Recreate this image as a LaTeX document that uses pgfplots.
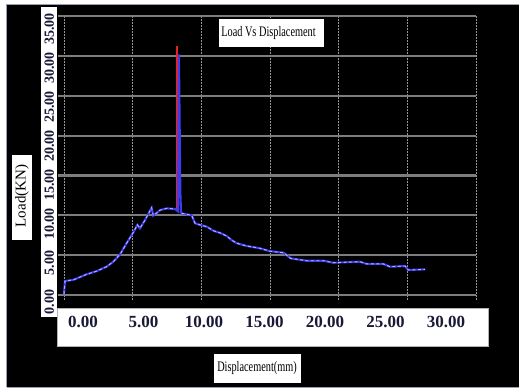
\documentclass[border=0pt]{standalone}
\usepackage{fontspec}
\setmainfont{Liberation Serif}
\usepackage{graphicx}
\usepackage{pgfplots}
\pgfplotsset{compat=1.18}
\usepackage{pgfplotstable}
\definecolor{curveblue}{RGB}{60,60,240}
\definecolor{curvelight}{RGB}{180,180,255}
\definecolor{spikered}{RGB}{230,35,35}
\definecolor{hgrid}{RGB}{125,125,125}
\definecolor{vgrid}{RGB}{150,150,150}
\definecolor{ticktext}{RGB}{25,25,55}
\definecolor{framegray}{RGB}{150,160,175}

\pgfplotstableread{
x y
0 0.1
0.07 1.76
0.68 1.9
1.65 2.6
2.38 3.0
3.1 3.55
3.6 4.2
4.08 5.1
4.56 6.5
5.05 7.87
5.34 8.8
5.53 8.37
5.9 9.4
6.38 10.95
6.5 9.95
7.0 10.66
7.48 10.87
8.08 10.8
8.3 10.5
8.37 30.2
8.47 13.0
8.52 10.4
8.57 10.25
9.3 10.0
9.54 9.0
9.9 8.8
10.4 8.57
10.87 8.07
11.36 7.8
11.85 7.4
12.2 6.9
12.58 6.5
13.3 6.15
13.9 5.98
14.27 5.86
15.0 5.5
16.0 5.3
16.5 4.6
17.67 4.3
18.9 4.3
19.6 4.05
21.55 4.18
22.04 3.9
23.25 3.9
23.74 3.55
24.83 3.64
25.07 3.14
26.3 3.22
}\curvedata

\begin{document}
\begin{tikzpicture}
\begin{scope}[x=1pt,y=1pt]
\useasboundingbox (0,0) rectangle (519,390);
\fill[white] (0,0) rectangle (519,390);
\fill[black] (7,3) rectangle (519,385);
\draw[framegray, line width=1.2pt] (6.5,3)--(6.5,385.5)--(519,385.5);
\draw[framegray, line width=1.2pt] (6.5,2.5)--(519,2.5);
\end{scope}

\begin{axis}[at={(58pt,90.2pt)}, anchor=south west, scale only axis,
  width=418pt, height=283.7pt,
  xmin=-0.437, xmax=30, ymin=-0.6, ymax=35,
  xtick={0,5,...,30}, ytick={0,5,...,35},
  xticklabels={}, yticklabels={},
  major tick length=0pt, axis line style={draw=none},
  xmajorgrids, ymajorgrids,
  x grid style={vgrid, line width=0.6pt, dash pattern=on 1.5pt off 1.5pt},
  y grid style={hgrid, line width=2.2pt}]
\addplot[spikered, line width=1.5pt] coordinates {(8.24,10.6) (8.24,31.2)};
\addplot[curveblue, line width=2.1pt] table {\curvedata};
\addplot[curvelight, line width=0.9pt, dash pattern=on 3pt off 2.5pt, restrict x to domain=0:8.2] table {\curvedata};
\addplot[curvelight, line width=0.9pt, dash pattern=on 3pt off 2.5pt, restrict x to domain=8.55:30] table {\curvedata};
\end{axis}

\begin{scope}[x=1pt,y=1pt]
\fill[white] (41,73) rectangle (57,383);
\filldraw[fill=white, draw=gray!60, line width=0.6pt] (57,44) rectangle (488,82);
\fill[white] (219,343) rectangle (324,371);
\fill[white] (12,150) rectangle (32,235);
\fill[white] (214,7) rectangle (301,36);

\node at (268.5,357) {\fontsize{14.5}{15}\selectfont\scalebox{0.71}[1]{Load Vs Displacement}};
\node[rotate=90] at (22,194) {\fontsize{15}{15}\selectfont Load(KN)};
\node at (257,21.5) {\fontsize{14.5}{15}\selectfont\scalebox{0.71}[1]{Displacement(mm)}};
\end{scope}

% x tick labels
\begin{axis}[at={(58pt,90.2pt)}, anchor=south west, scale only axis,
  width=418pt, height=283.7pt,
  xmin=-2.066, xmax=32.48, ymin=0, ymax=1,
  xtick={0,5,...,30}, ytick=\empty,
  xticklabels={0.00,5.00,10.00,15.00,20.00,25.00,30.00},
  major tick length=0pt, axis line style={draw=none},
  xticklabel style={anchor=center, yshift=-21.9pt, text=ticktext,
    font=\fontsize{17}{17}\selectfont\bfseries}]
\end{axis}

% y tick labels
\begin{axis}[at={(58pt,80.2pt)}, anchor=south west, scale only axis,
  width=418pt, height=296.4pt,
  xmin=0, xmax=1, ymin=-1, ymax=37,
  xtick=\empty, ytick={0,5,...,35},
  yticklabels={0.00,5.00,10.00,15.00,20.00,25.00,30.00,35.00},
  major tick length=0pt, axis line style={draw=none},
  yticklabel style={xshift=-8.7pt, rotate=90, anchor=center, text=ticktext,
    font=\fontsize{14}{14}\selectfont\bfseries}]
\end{axis}
\end{tikzpicture}
\end{document}
